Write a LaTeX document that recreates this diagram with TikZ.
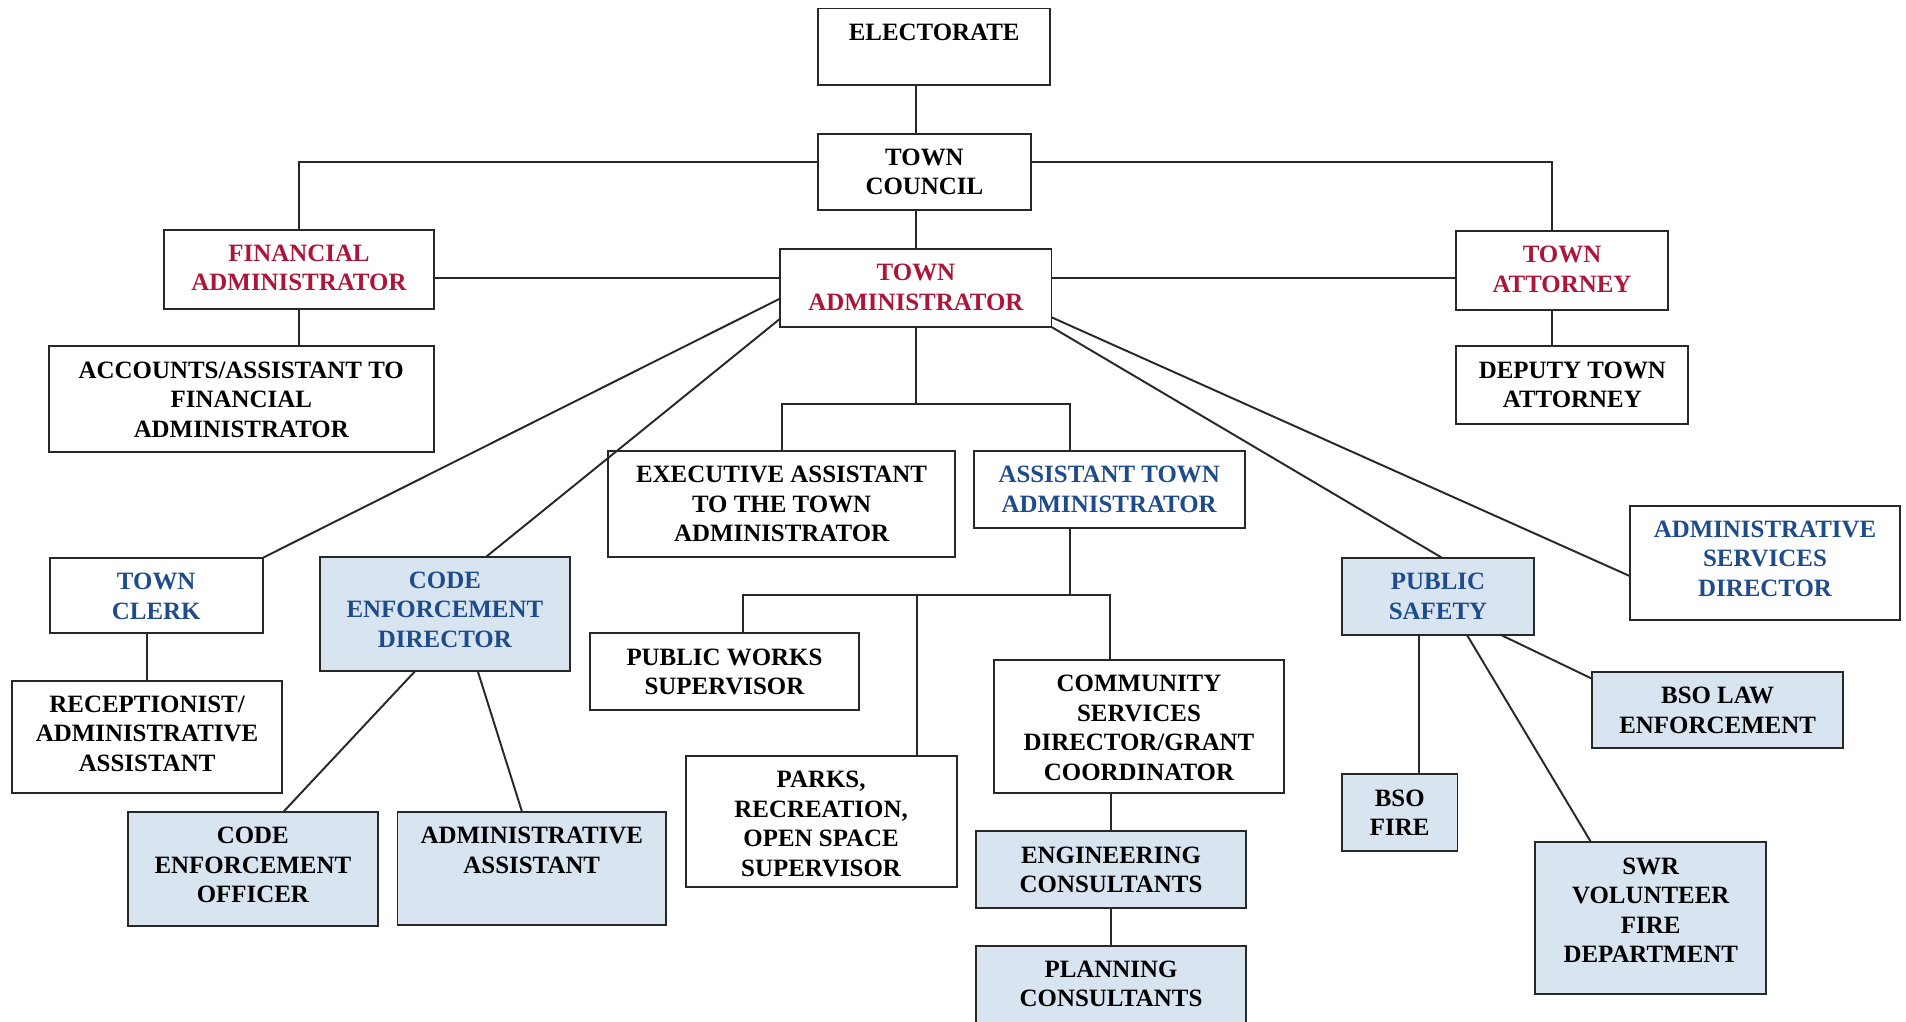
\documentclass[tikz,border=0pt]{standalone}
\usepackage{fontspec}
\setmainfont{Liberation Serif}
\usetikzlibrary{calc}
\definecolor{tred}{RGB}{172,22,56}
\definecolor{tblue}{RGB}{30,76,138}
\definecolor{tfill}{RGB}{216,228,240}
\definecolor{tline}{RGB}{40,40,40}
\tikzset{
  plainbox/.style={draw=tline, line width=1.6pt, fill=white, inner sep=0pt, outer sep=0pt, rectangle},
  shadebox/.style={plainbox, fill=tfill},
  txt/.style={inner sep=0pt, outer sep=0pt, align=center, font=\fontsize{20.5}{24.2}\selectfont\bfseries},
  conn/.style={draw=tline, line width=1.6pt}
}
% name, x1, y1, x2, y2, box style, text colour, text
\newcommand{\orgbox}[8]{%
  \node[#6, minimum width={#4-#2}, minimum height={#5-#3}, anchor=north west] (#1) at (#2,#3) {};
  \node[txt, text=#7, anchor=north] (#1-t) at ([yshift=-9.2pt]#1.north) {\strut #8};
}
\begin{document}
\begin{tikzpicture}[x=1pt,y=-1pt]
\fill[white] (0,0) rectangle (1568,840);
\useasboundingbox (0,0) rectangle (1568,840);

\orgbox{el}{673}{7}{864}{70}{plainbox}{black}{ELECTORATE}
\orgbox{tc}{673}{110}{848}{173}{plainbox}{black}{TOWN\\COUNCIL}
\orgbox{fa}{135}{189}{357}{254}{plainbox}{tred}{FINANCIAL\\ADMINISTRATOR}
\orgbox{ta}{642}{205}{865}{269}{plainbox}{tred}{TOWN\\ADMINISTRATOR}
\orgbox{tatt}{1198}{190}{1372}{255}{plainbox}{tred}{TOWN\\ATTORNEY}
\orgbox{acc}{40}{285}{357}{372}{plainbox}{black}{ACCOUNTS/ASSISTANT TO\\FINANCIAL\\ADMINISTRATOR}
\orgbox{dep}{1198}{285}{1389}{349}{plainbox}{black}{DEPUTY TOWN\\ATTORNEY}
\orgbox{exec}{500}{371}{786}{458}{plainbox}{black}{EXECUTIVE ASSISTANT\\TO THE TOWN\\ADMINISTRATOR}
\orgbox{ata}{801}{371}{1024}{434}{plainbox}{tblue}{ASSISTANT TOWN\\ADMINISTRATOR}
\orgbox{asd}{1341}{416}{1563}{510}{plainbox}{tblue}{ADMINISTRATIVE\\SERVICES\\DIRECTOR}
\orgbox{clerk}{41}{459}{216}{521}{plainbox}{tblue}{TOWN\\CLERK}
\orgbox{ced}{263}{458}{469}{552}{shadebox}{tblue}{CODE\\ENFORCEMENT\\DIRECTOR}
\orgbox{ps}{1104}{459}{1262}{522}{shadebox}{tblue}{PUBLIC\\SAFETY}
\orgbox{pw}{485}{521}{707}{584}{plainbox}{black}{PUBLIC WORKS\\SUPERVISOR}
\orgbox{cs}{818}{543}{1056}{652}{plainbox}{black}{COMMUNITY\\SERVICES\\DIRECTOR/GRANT\\COORDINATOR}
\orgbox{rec}{10}{560}{232}{652}{plainbox}{black}{RECEPTIONIST/\\ADMINISTRATIVE\\ASSISTANT}
\orgbox{bsol}{1310}{553}{1516}{615}{shadebox}{black}{BSO LAW\\ENFORCEMENT}
\orgbox{parks}{564}{622}{787}{730}{plainbox}{black}{PARKS,\\RECREATION,\\OPEN SPACE\\SUPERVISOR}
\orgbox{bsof}{1104}{637}{1199}{700}{shadebox}{black}{BSO\\FIRE}
\orgbox{ceo}{105}{668}{311}{762}{shadebox}{black}{CODE\\ENFORCEMENT\\OFFICER}
\orgbox{aa}{327}{668}{548}{761}{shadebox}{black}{ADMINISTRATIVE\\ASSISTANT}
\orgbox{eng}{803}{684}{1025}{747}{shadebox}{black}{ENGINEERING\\CONSULTANTS}
\orgbox{swr}{1263}{693}{1453}{818}{shadebox}{black}{SWR\\VOLUNTEER\\FIRE\\DEPARTMENT}
\orgbox{plan}{803}{778}{1025}{846}{shadebox}{black}{PLANNING\\CONSULTANTS}

% connectors
\draw[conn] (el.south -| ta.north) -- (tc.north -| ta.north);
\draw[conn] (tc.south -| ta.north) -- (ta.north);
\draw[conn] ([yshift=8pt]tc.west) -| (fa.north);
\draw[conn] ([yshift=8pt]tc.east) -| ([xshift=-8pt]tatt.north);
\draw[conn] ([yshift=8pt]ta.west) -- ([yshift=8pt]ta.west -| fa.east);
\draw[conn] ([yshift=8pt]ta.east) -- ([yshift=8pt]ta.east -| tatt.west);
\draw[conn] (fa.south) -- (fa.south |- acc.north);
\draw[conn] ([xshift=-8pt]tatt.south) -- ([xshift=-8pt]tatt.south |- dep.north);

\coordinate (j1) at ($(ta.south)+(0,63.5)$);
\draw[conn] (ta.south) -- (j1);
\draw[conn] (exec.north) |- (j1) -| ([xshift=-32pt]ata.north);

\draw[conn] ([yshift=-8.5pt]ta.west) -- (clerk.north east);
\draw[conn] ([yshift=-25pt]ta.west) -- ([xshift=34pt]ced.north);
\draw[conn] ([yshift=-24pt]ta.east) -- ([yshift=-11pt]asd.west);
\draw[conn] (ta.south east) -- ([xshift=3.5pt]ps.north);

\draw[conn] ([xshift=-7.5pt]clerk.south) -- ([xshift=-7.5pt]clerk.south |- rec.north);
\draw[conn] ([xshift=-24.4pt]ced.south) -- ([xshift=25pt]ceo.north);
\draw[conn] ([xshift=27pt]ced.south) -- ([xshift=-8pt]aa.north);

\coordinate (j2) at ($([xshift=-32pt]ata.south)+(0,55.5)$);
\draw[conn] ([xshift=-32pt]ata.south) -- (j2);
\draw[conn] ([xshift=15.5pt]pw.north) |- (j2) -| ([xshift=-24pt]cs.north);
\draw[conn] ([xshift=79pt]parks.north) -- ([xshift=79pt]parks.north |- j2);

\draw[conn] ([xshift=-23pt]cs.south) -- ([xshift=-23pt]cs.south |- eng.north);
\draw[conn] ([xshift=-23pt]cs.south |- eng.south) -- ([xshift=-23pt]cs.south |- plan.north);

\draw[conn] ([xshift=-15.5pt]ps.south) -- ([xshift=-15.5pt]ps.south |- bsof.north);
\draw[conn] ([xshift=23.6pt]ps.south) -- ([xshift=-49pt]swr.north);
\draw[conn] ([xshift=51pt]ps.south) -- ([yshift=-5.5pt]bsol.north west);
\end{tikzpicture}
\end{document}
